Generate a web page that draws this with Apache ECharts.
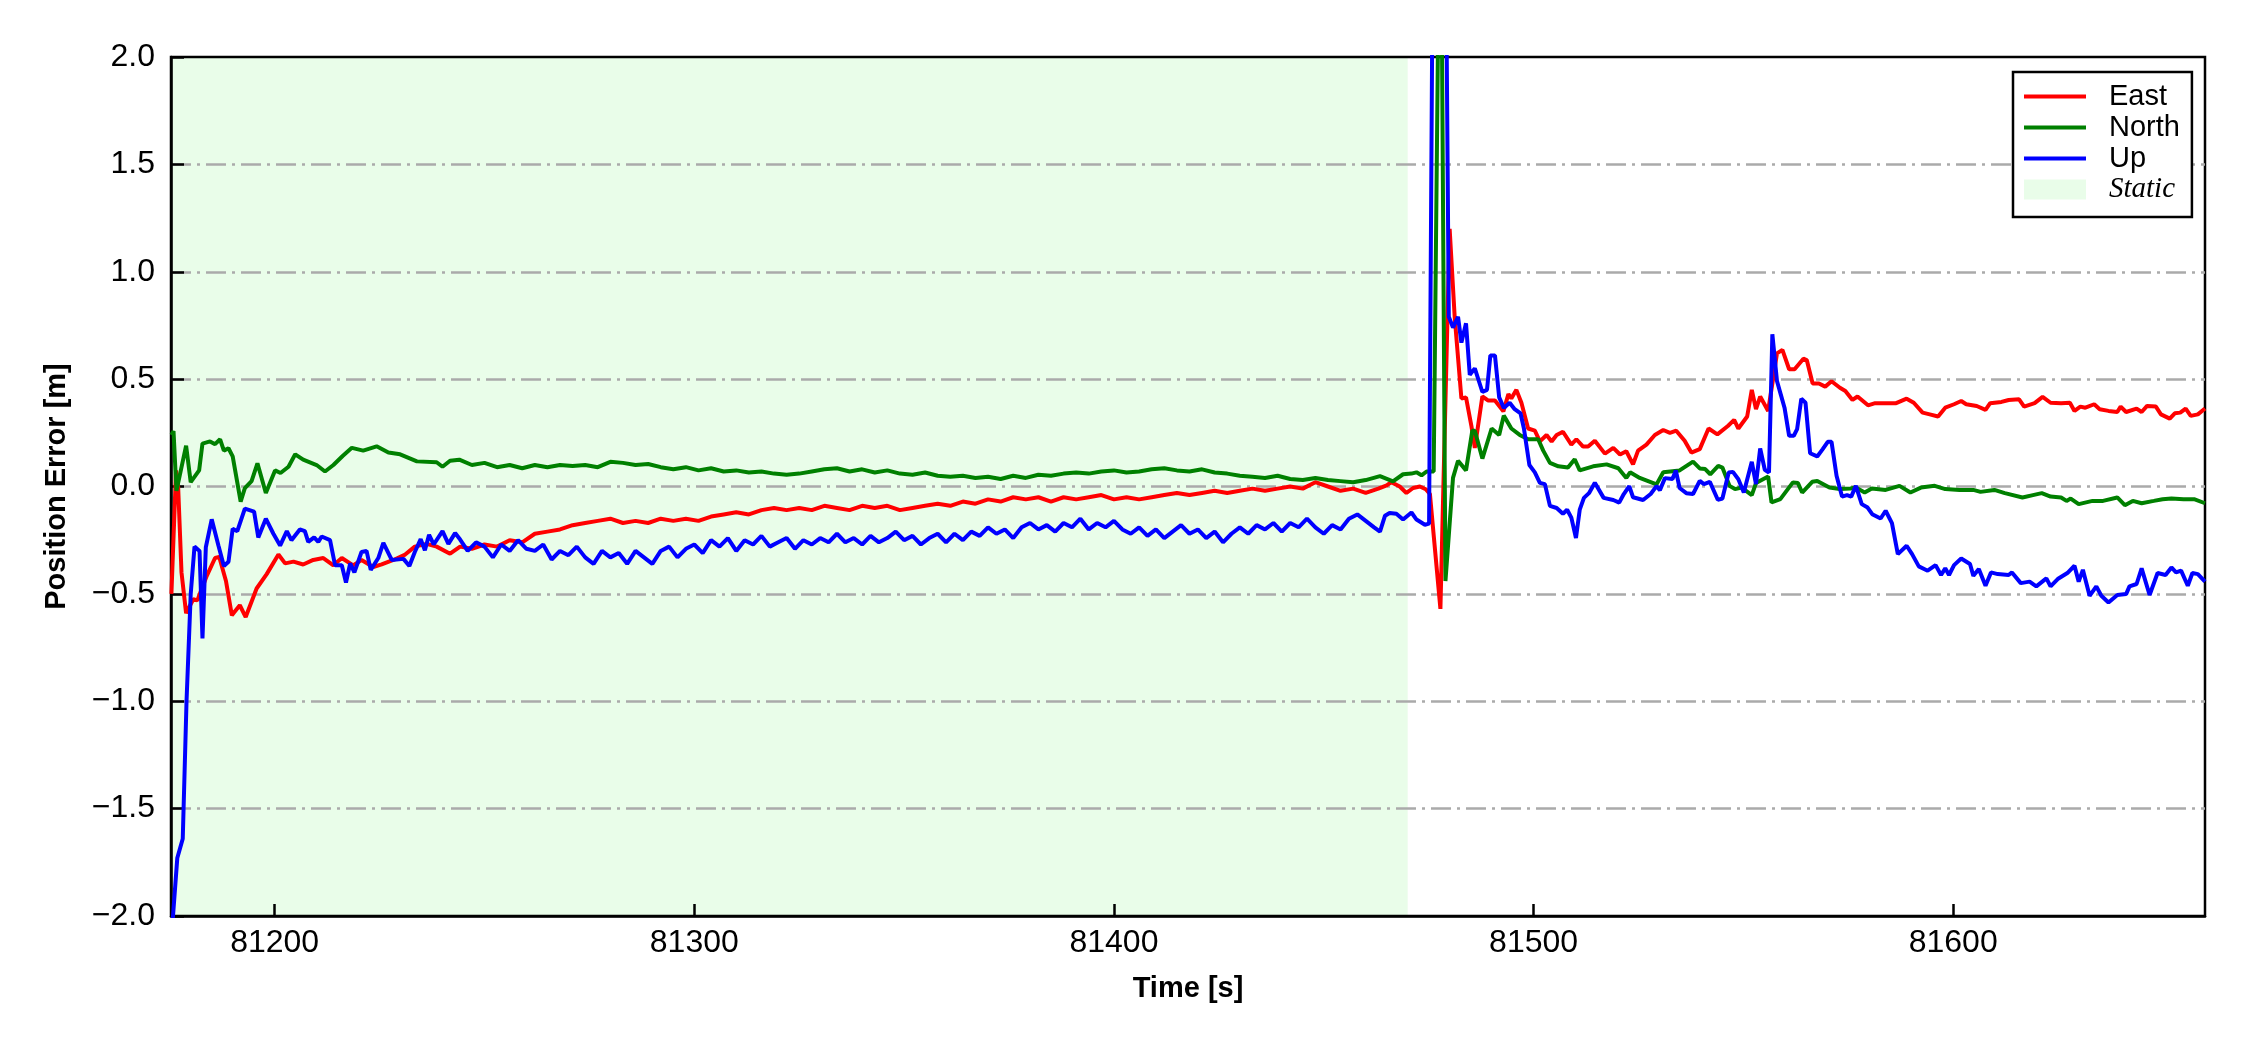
<!DOCTYPE html>
<html>
<head>
<meta charset="utf-8">
<script src="https://cdn.jsdelivr.net/npm/echarts@6/dist/echarts.min.js"></script>
<style>
html,body{margin:0;padding:0;background:#fff;}
#chart{width:2250px;height:1050px;}
</style>
</head>
<body>
<div id="chart"></div>
<script>
// ---------- data ----------
const xTicks = [81200, 81300, 81400, 81500, 81600];
const xRange = [81175.3, 81660];
const yRange = [-2, 2];
const staticSpan = [81175.3, 81470];
const legendNames = ['East', 'North', 'Up', 'Static'];

// [time s, error m]
const east = [
[81175.4,-0.50],[81176.5,0.075],[81177.0,0.0],[81177.8,-0.40],[81178.9,-0.59],[81180.6,-0.525],[81181.6,-0.53],
[81183.8,-0.417],[81185.8,-0.333],[81186.8,-0.328],[81188.4,-0.44],[81189.8,-0.60],[81191.7,-0.553],[81193.1,-0.608],
[81195.7,-0.475],[81198.1,-0.408],[81200.9,-0.317],[81202.5,-0.358],[81204.5,-0.35],[81206.8,-0.363],[81209.2,-0.342],
[81211.6,-0.333],[81214.0,-0.367],[81216.0,-0.333],[81218.7,-0.367],[81220.7,-0.342],[81223.5,-0.375],[81225.5,-0.363],
[81228.3,-0.342],[81231.1,-0.317],[81233.4,-0.28],[81236.2,-0.267],[81238.6,-0.28],[81241.8,-0.313],[81244.2,-0.28],
[81247,-0.29],[81250,-0.27],[81253,-0.28],[81256,-0.25],[81259,-0.26],[81262,-0.22],[81265,-0.21],[81268,-0.2],
[81271,-0.18],[81274,-0.17],[81277,-0.16],[81280,-0.15],[81283,-0.17],[81286,-0.16],[81289,-0.17],[81292,-0.15],
[81295,-0.16],[81298,-0.15],[81301,-0.16],[81304,-0.14],[81307,-0.13],[81310,-0.12],[81313,-0.13],[81316,-0.11],
[81319,-0.1],[81322,-0.11],[81325,-0.1],[81328,-0.11],[81331,-0.09],[81334,-0.1],[81337,-0.11],[81340,-0.09],
[81343,-0.1],[81346,-0.09],[81349,-0.11],[81352,-0.1],[81355,-0.09],[81358,-0.08],[81361,-0.09],[81364,-0.07],
[81367,-0.08],[81370,-0.06],[81373,-0.07],[81376,-0.05],[81379,-0.06],[81382,-0.05],[81385,-0.07],[81388,-0.05],
[81391,-0.06],[81394,-0.05],[81397,-0.04],[81400,-0.06],[81403,-0.05],[81406,-0.06],[81409,-0.05],[81412,-0.04],
[81415,-0.03],[81418,-0.04],[81421,-0.03],[81424,-0.02],[81427,-0.03],[81430,-0.02],[81433,-0.01],[81436,-0.02],
[81439,-0.01],[81442,0.0],[81445,-0.01],[81448,0.02],[81451,0.0],[81454,-0.02],[81457,-0.01],[81460,-0.03],[81463,-0.01],
[81465.0,0.005],[81466.1,0.02],[81468.1,0.0],[81469.7,-0.03],[81471.3,-0.007],[81472.9,0.0],[81474.3,-0.013],
[81475.3,-0.035],[81477.8,-0.57],[81480.0,1.2],[81481.2,0.79],[81482.8,0.41],[81483.9,0.415],[81485.2,0.28],
[81486.0,0.18],[81487.8,0.42],[81489.2,0.40],[81490.8,0.40],[81492.8,0.35],[81494.0,0.43],[81494.7,0.41],[81495.9,0.45],
[81497.1,0.39],[81498.7,0.27],[81500.3,0.26],[81501.5,0.21],[81503.1,0.24],[81504.3,0.21],[81505.5,0.24],[81507.0,0.255],
[81509.0,0.195],[81510.2,0.22],[81511.8,0.186],[81513.0,0.186],[81514.6,0.213],[81517.0,0.153],[81519.0,0.18],
[81520.6,0.149],[81522.1,0.164],[81523.7,0.103],[81524.9,0.167],[81526.9,0.195],[81528.9,0.24],[81530.9,0.263],
[81532.5,0.25],[81534.0,0.26],[81536.0,0.213],[81537.6,0.158],[81539.6,0.174],[81541.7,0.27],[81543.8,0.243],
[81546.3,0.282],[81547.8,0.31],[81548.8,0.27],[81550.9,0.326],[81552.0,0.45],[81553.0,0.36],[81554.0,0.419],
[81555.9,0.352],[81558.0,0.62],[81559.3,0.636],[81560.9,0.546],[81562.2,0.546],[81564.3,0.595],[81565.1,0.589],
[81566.5,0.48],[81568.0,0.48],[81569.5,0.465],[81571.0,0.49],[81573.0,0.46],[81574.3,0.445],[81576.0,0.403],
[81577.2,0.419],[81579.7,0.378],[81581.4,0.388],[81584.7,0.388],[81586.4,0.388],[81588.9,0.409],[81590.6,0.39],
[81592.7,0.344],[81594.4,0.336],[81596.4,0.326],[81598.1,0.367],[81600.2,0.383],[81601.9,0.398],[81603.1,0.383],
[81605.6,0.375],[81607.7,0.357],[81608.8,0.388],[81611.5,0.394],[81613.2,0.403],[81615.7,0.406],[81616.9,0.372],
[81619.4,0.388],[81621.3,0.417],[81623.2,0.39],[81625.7,0.388],[81627.8,0.39],[81628.9,0.352],[81630.3,0.372],
[81631.5,0.367],[81633.6,0.383],[81634.9,0.36],[81637.0,0.352],[81639.1,0.347],[81639.9,0.372],[81641.2,0.347],
[81643.7,0.363],[81644.9,0.347],[81646.2,0.375],[81648.3,0.372],[81649.5,0.336],[81651.6,0.316],[81652.8,0.341],
[81654.1,0.344],[81655.4,0.363],[81656.6,0.329],[81658.3,0.336],[81660.0,0.363]
];

const north = [
[81175.4,0.24],[81175.9,0.258],[81176.6,-0.02],[81178.9,0.19],[81180.0,0.02],[81182.0,0.075],[81182.8,0.20],
[81184.6,0.21],[81185.8,0.197],[81187.0,0.22],[81187.9,0.167],[81189.0,0.178],[81190.0,0.14],[81191.9,-0.07],
[81192.9,-0.008],[81194.5,0.025],[81195.9,0.108],[81197.9,-0.03],[81200.1,0.075],[81201.4,0.063],[81203.3,0.092],
[81204.9,0.15],[81206.8,0.125],[81210.0,0.10],[81212.0,0.07],[81214.0,0.10],[81216.2,0.142],[81218.4,0.18],
[81221.1,0.167],[81224.3,0.187],[81227.1,0.158],[81229.9,0.15],[81233.9,0.117],[81238.6,0.113],[81240.0,0.092],
[81241.8,0.12],[81244,0.125],[81247,0.10],[81250,0.11],[81253,0.09],[81256,0.10],[81259,0.085],[81262,0.10],
[81265,0.09],[81268,0.10],[81271,0.095],[81274,0.10],[81277,0.09],[81280,0.115],[81283,0.11],[81286,0.10],
[81289,0.105],[81292,0.09],[81295,0.08],[81298,0.09],[81301,0.075],[81304,0.085],[81307,0.07],[81310,0.075],
[81313,0.065],[81316,0.07],[81319,0.06],[81322,0.055],[81325,0.06],[81328,0.07],[81331,0.08],[81334,0.085],
[81337,0.07],[81340,0.08],[81343,0.065],[81346,0.075],[81349,0.06],[81352,0.055],[81355,0.065],[81358,0.05],
[81361,0.045],[81364,0.05],[81367,0.04],[81370,0.045],[81373,0.035],[81376,0.05],[81379,0.04],[81382,0.055],
[81385,0.05],[81388,0.06],[81391,0.065],[81394,0.06],[81397,0.07],[81400,0.075],[81403,0.065],[81406,0.07],
[81409,0.08],[81412,0.085],[81415,0.075],[81418,0.07],[81421,0.08],[81424,0.065],[81427,0.06],[81430,0.05],
[81433,0.045],[81436,0.04],[81439,0.05],[81442,0.035],[81445,0.03],[81448,0.04],[81451,0.03],[81454,0.025],
[81457,0.02],[81460,0.03],[81463.4,0.048],[81466.5,0.024],[81468.9,0.057],[81470.9,0.06],[81472.1,0.066],
[81473.3,0.052],[81474.5,0.07],[81476.2,0.07],[81477.8,3.2],[81479.0,-0.44],[81480.8,0.04],[81482.0,0.12],
[81483.9,0.075],[81485.4,0.26],[81486.0,0.26],[81487.8,0.13],[81490.0,0.27],[81491.8,0.24],[81492.9,0.33],
[81494.7,0.27],[81496.7,0.24],[81498.7,0.22],[81501.1,0.22],[81502.3,0.167],[81503.9,0.11],[81505.9,0.094],
[81508.2,0.088],[81509.8,0.127],[81511.0,0.075],[81514.2,0.094],[81517.4,0.103],[81520.2,0.085],[81522.1,0.04],
[81523.0,0.066],[81525.3,0.04],[81529.3,0.01],[81530.9,0.066],[81534.8,0.075],[81538.0,0.116],[81539.6,0.084],
[81540.9,0.081],[81542.1,0.057],[81544.0,0.096],[81545.0,0.088],[81546.7,0.003],[81548.0,-0.012],[81549.6,-0.005],
[81552.0,-0.04],[81553.0,0.016],[81555.9,0.047],[81556.7,-0.074],[81558.8,-0.059],[81561.8,0.019],[81563.0,0.016],
[81564.0,-0.028],[81566.4,0.022],[81567.6,0.026],[81570.5,-0.005],[81573.0,-0.012],[81575.5,-0.009],[81576.8,-0.005],
[81578.9,-0.028],[81580.6,-0.009],[81583.9,-0.016],[81587.2,0.003],[81589.8,-0.028],[81592.3,-0.005],[81595.6,0.003],
[81598.1,-0.012],[81601.5,-0.016],[81604.8,-0.016],[81606.5,-0.025],[81609.8,-0.016],[81612.3,-0.031],[81616.5,-0.051],
[81619.0,-0.04],[81621.1,-0.031],[81623.2,-0.047],[81625.7,-0.051],[81627.0,-0.067],[81628.0,-0.056],[81629.9,-0.082],
[81633.2,-0.067],[81635.7,-0.067],[81639.1,-0.051],[81640.9,-0.087],[81642.8,-0.067],[81644.9,-0.078],[81647.8,-0.067],
[81649.9,-0.059],[81652.0,-0.056],[81654.9,-0.059],[81657.4,-0.059],[81660.0,-0.078]
];

const up = [
[81175.4,-2.1],[81176.8,-1.73],[81178.1,-1.64],[81179.0,-1.0],[81180.0,-0.5],[81180.9,-0.28],[81182.1,-0.30],
[81182.8,-0.708],[81183.6,-0.283],[81185.0,-0.153],[81186.6,-0.275],[81187.9,-0.37],[81189.0,-0.35],[81190.0,-0.197],
[81191.1,-0.208],[81192.9,-0.103],[81195.1,-0.117],[81196.1,-0.237],[81197.9,-0.15],[81199.7,-0.22],[81201.3,-0.275],
[81202.9,-0.208],[81204.0,-0.25],[81206.0,-0.20],[81207.2,-0.208],[81208.0,-0.258],[81209.4,-0.237],[81210.4,-0.258],
[81211.2,-0.233],[81213.2,-0.25],[81214.4,-0.367],[81216.0,-0.367],[81217.0,-0.447],[81218.0,-0.358],[81219.0,-0.40],
[81220.7,-0.305],[81221.9,-0.30],[81222.9,-0.388],[81224.7,-0.333],[81225.9,-0.263],[81227.9,-0.342],[81230.7,-0.337],
[81232.1,-0.37],[81233.4,-0.305],[81234.8,-0.245],[81235.8,-0.297],[81236.8,-0.225],[81237.9,-0.27],[81240.0,-0.208],
[81241.4,-0.267],[81243.0,-0.217],[81244.2,-0.247],
[81246,-0.3],[81248,-0.26],[81250,-0.28],[81252,-0.33],[81254,-0.27],[81256,-0.3],[81258,-0.25],[81260,-0.29],
[81262,-0.3],[81264,-0.27],[81266,-0.34],[81268,-0.3],[81270,-0.32],[81272,-0.28],[81274,-0.33],[81276,-0.36],
[81278,-0.3],[81280,-0.33],[81282,-0.31],[81284,-0.36],[81286,-0.3],[81288,-0.33],[81290,-0.36],[81292,-0.3],
[81294,-0.28],[81296,-0.33],[81298,-0.29],[81300,-0.27],[81302,-0.31],[81304,-0.25],[81306,-0.28],[81308,-0.24],
[81310,-0.3],[81312,-0.25],[81314,-0.27],[81316,-0.23],[81318,-0.28],[81320,-0.26],[81322,-0.24],[81324,-0.29],
[81326,-0.25],[81328,-0.27],[81330,-0.24],[81332,-0.26],[81334,-0.22],[81336,-0.26],[81338,-0.24],[81340,-0.27],
[81342,-0.23],[81344,-0.26],[81346,-0.24],[81348,-0.21],[81350,-0.25],[81352,-0.23],[81354,-0.27],[81356,-0.24],
[81358,-0.22],[81360,-0.26],[81362,-0.22],[81364,-0.25],[81366,-0.21],[81368,-0.23],[81370,-0.19],[81372,-0.22],
[81374,-0.2],[81376,-0.24],[81378,-0.19],[81380,-0.17],[81382,-0.2],[81384,-0.18],[81386,-0.21],[81388,-0.17],
[81390,-0.19],[81392,-0.15],[81394,-0.2],[81396,-0.17],[81398,-0.19],[81400,-0.16],[81402,-0.2],[81404,-0.22],
[81406,-0.19],[81408,-0.23],[81410,-0.2],[81412,-0.24],[81414,-0.21],[81416,-0.18],[81418,-0.22],[81420,-0.2],
[81422,-0.24],[81424,-0.21],[81426,-0.26],[81428,-0.22],[81430,-0.19],[81432,-0.22],[81434,-0.18],[81436,-0.2],
[81438,-0.17],[81440,-0.21],[81442,-0.17],[81444,-0.19],[81446,-0.15],[81448,-0.19],[81450,-0.22],[81452,-0.18],
[81454,-0.2],[81456,-0.15],[81458,-0.13],[81460,-0.16],[81462,-0.19],
[81463.4,-0.21],[81464.6,-0.136],[81465.7,-0.123],[81467.3,-0.127],[81468.9,-0.154],[81470.9,-0.121],[81472.1,-0.154],
[81474.1,-0.178],[81475.1,-0.173],[81476.3,3.5],[81478.5,4.0],[81479.8,0.79],[81480.8,0.74],[81482.0,0.79],
[81482.8,0.67],[81483.9,0.76],[81484.8,0.52],[81486.0,0.55],[81487.8,0.44],[81488.9,0.45],[81489.7,0.61],
[81490.8,0.61],[81491.8,0.415],[81492.9,0.366],[81494.3,0.39],[81495.5,0.36],[81496.9,0.34],[81497.7,0.27],
[81499.0,0.10],[81500.3,0.066],[81501.5,0.017],[81502.7,0.011],[81503.9,-0.09],[81505.5,-0.10],[81507.0,-0.127],
[81508.0,-0.108],[81509.0,-0.145],[81510.1,-0.24],[81511.0,-0.108],[81512.0,-0.053],[81513.2,-0.031],[81514.6,0.017],
[81516.7,-0.053],[81519.0,-0.063],[81520.4,-0.075],[81521.5,-0.035],[81522.8,0.002],[81523.7,-0.05],[81526.1,-0.063],
[81527.9,-0.035],[81529.3,0.002],[81530.1,-0.017],[81531.3,0.039],[81533.1,0.035],[81533.9,0.075],[81534.8,-0.007],
[81536.4,-0.031],[81538.0,-0.035],[81539.6,0.026],[81540.6,0.011],[81542.0,0.022],[81543.9,-0.062],[81545.0,-0.056],
[81546.5,0.065],[81547.5,0.068],[81548.8,0.034],[81550.1,-0.028],[81552.0,0.115],[81553.0,0.011],[81554.0,0.177],
[81555.1,0.078],[81556.1,0.065],[81556.9,0.709],[81558.0,0.491],[81559.0,0.422],[81559.8,0.367],[81560.9,0.236],
[81562.0,0.236],[81562.8,0.267],[81563.8,0.409],[81564.8,0.39],[81565.9,0.155],[81567.6,0.14],[81568.9,0.174],
[81570.1,0.208],[81571.0,0.208],[81572.2,0.05],[81573.5,-0.047],[81574.7,-0.04],[81575.7,-0.047],[81576.8,0.003],
[81578.2,-0.082],[81579.6,-0.098],[81580.7,-0.129],[81582.7,-0.149],[81583.9,-0.113],[81585.4,-0.171],[81586.8,-0.315],
[81588.9,-0.276],[81590.2,-0.315],[81591.8,-0.372],[81593.9,-0.392],[81595.8,-0.366],[81597.1,-0.412],[81598.1,-0.381],
[81599.0,-0.412],[81600.2,-0.366],[81601.9,-0.335],[81604.0,-0.361],[81604.8,-0.416],[81606.1,-0.384],[81607.7,-0.462],
[81609.0,-0.40],[81610.6,-0.408],[81613.2,-0.412],[81614.0,-0.40],[81616.1,-0.45],[81618.2,-0.443],[81619.8,-0.465],
[81622.2,-0.428],[81623.2,-0.465],[81624.9,-0.431],[81627.2,-0.403],[81628.9,-0.369],[81629.9,-0.443],[81630.9,-0.388],
[81632.5,-0.509],[81634.1,-0.465],[81635.3,-0.509],[81637.0,-0.54],[81639.1,-0.505],[81641.2,-0.501],[81642.0,-0.465],
[81643.7,-0.454],[81644.9,-0.381],[81646.8,-0.505],[81648.7,-0.403],[81650.6,-0.412],[81652.0,-0.377],[81653.1,-0.40],
[81654.3,-0.392],[81655.9,-0.462],[81657.0,-0.403],[81658.3,-0.408],[81660.0,-0.443]
];

// ---------- chart ----------
const FONT = '"Liberation Sans", Arial, Helvetica, sans-serif';
const SHADE = '#e9fde9';
// thin horizontal bar centred in a 62x20 box (tiny corner dots fix the bounding box)
const LINE_ICON = 'path://M0 0L0.01 0L0 0.01Z M0 8.1L62 8.1L62 11.9L0 11.9Z M62 20L61.99 20L62 19.99Z';
const chart = echarts.init(document.getElementById('chart'), null, {renderer: 'canvas'});

function lineSeries(name, data, color) {
  return {
    name, type: 'line', data, symbol: 'none', showSymbol: false,
    lineStyle: {color, width: 4}, itemStyle: {color},
    clip: true, z: 3, animation: false
  };
}

chart.setOption({
  backgroundColor: '#fff',
  animation: false,
  grid: {left: 171, right: 45, top: 57, bottom: 134, show: true, borderColor: '#000', borderWidth: 2.5, containLabel: false},
  legend: {
    orient: 'vertical', left: 2013, top: 72,
    backgroundColor: '#fff', borderColor: '#000', borderWidth: 2.5, borderRadius: 0,
    padding: [10, 12, 13, 11], itemGap: 2, itemWidth: 62, itemHeight: 20,
    textStyle: {fontFamily: FONT, fontSize: 29, color: '#000', padding: [0, 0, 0, 18]},
    data: [
      {name: legendNames[0], icon: LINE_ICON},
      {name: legendNames[1], icon: LINE_ICON},
      {name: legendNames[2], icon: LINE_ICON},
      {name: legendNames[3], icon: 'rect',
       textStyle: {fontFamily: '"Liberation Serif", "Times New Roman", serif', fontStyle: 'italic', fontSize: 29}}
    ]
  },
  xAxis: {
    type: 'value', min: xRange[0], max: xRange[1],
    name: 'Time [s]', nameLocation: 'middle', nameGap: 58,
    nameTextStyle: {fontFamily: FONT, fontSize: 29, fontWeight: 'bold', color: '#000'},
    axisLine: {show: true, onZero: false, lineStyle: {color: '#000', width: 2.5}},
    axisTick: {show: true, inside: true, length: 12, customValues: xTicks, lineStyle: {color: '#000', width: 2.5}},
    axisLabel: {show: true, customValues: xTicks, margin: 11, fontFamily: FONT, fontSize: 32, color: '#000',
      formatter: v => String(Math.round(v))},
    splitLine: {show: false}
  },
  yAxis: {
    type: 'value', min: yRange[0], max: yRange[1], interval: 0.5,
    name: 'Position Error [m]', nameLocation: 'middle', nameGap: 100,
    nameTextStyle: {fontFamily: FONT, fontSize: 29, fontWeight: 'bold', color: '#000'},
    axisLine: {show: true, onZero: false, lineStyle: {color: '#000', width: 2.5}},
    axisTick: {show: true, inside: true, length: 13, lineStyle: {color: '#000', width: 2.5}},
    axisLabel: {margin: 16, fontFamily: FONT, fontSize: 32, color: '#000',
      formatter: v => v.toFixed(1).replace('-', '\u2212')},
    splitLine: {show: true, showMinLine: false, showMaxLine: false,
      lineStyle: {color: '#aaaaaa', width: 2.5, type: [20, 6, 3, 6]}}
  },
  series: [
    lineSeries('East', east, '#ff0000'),
    lineSeries('North', north, '#008000'),
    lineSeries('Up', up, '#0000ff'),
    {
      name: 'Static', type: 'line', symbol: 'none', silent: true, z: -1,
      data: [[staticSpan[0], yRange[1]], [staticSpan[1], yRange[1]]],
      lineStyle: {width: 0, color: SHADE},
      itemStyle: {color: SHADE},
      areaStyle: {color: SHADE, opacity: 1, origin: 'start'}
    }
  ]
});
</script>
</body>
</html>
